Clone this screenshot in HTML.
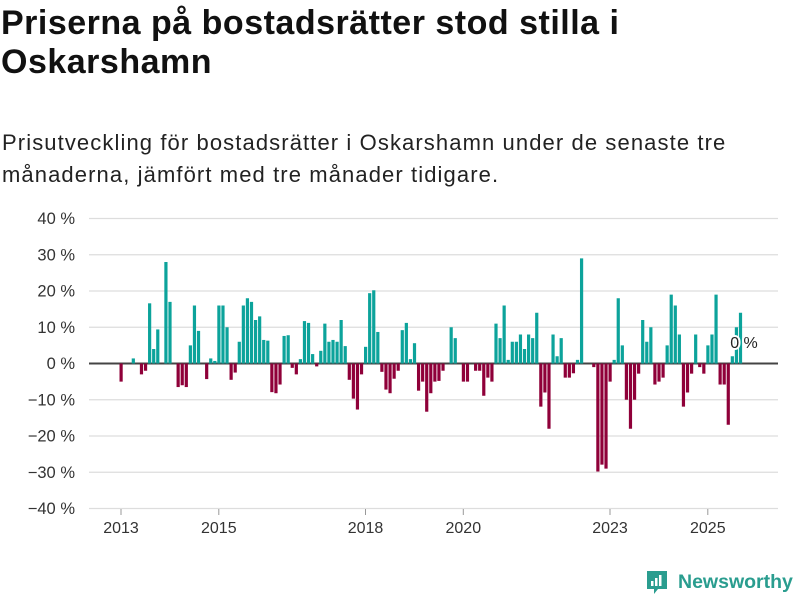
<!DOCTYPE html>
<html><head><meta charset="utf-8"><style>
body{margin:0;background:#fff;width:800px;height:600px;overflow:hidden;font-family:"Liberation Sans",sans-serif;position:relative}
h1{position:absolute;left:1px;top:4px;margin:0;font-size:34px;line-height:39px;font-weight:bold;color:#111;letter-spacing:0.5px;white-space:nowrap}
.sub{position:absolute;left:2px;top:127px;margin:0;font-size:22px;line-height:32px;color:#222;letter-spacing:1.1px;white-space:nowrap}
.logo{position:absolute;left:645px;top:569px;display:flex;align-items:center}
</style></head><body>
<h1>Priserna på bostadsrätter stod stilla i<br>Oskarshamn</h1>
<p class="sub">Prisutveckling för bostadsrätter i Oskarshamn under de senaste tre<br>månaderna, jämfört med tre månader tidigare.</p>
<svg id="chart" width="800" height="600" style="position:absolute;left:0;top:0"></svg>
<div class="logo">
<svg width="24" height="26"><path d="M2 2h20v18h-9l-4 5v-5H2z" fill="#2a9d8f"/><rect x="6" y="12" width="2.5" height="5" fill="#fff"/><rect x="10" y="9" width="2.5" height="8" fill="#fff"/><rect x="14" y="6" width="2.5" height="11" fill="#fff"/></svg>
<span style="margin-left:9px;font-size:19.5px;font-weight:bold;color:#2a9d8f">Newsworthy</span>
</div>
<script>
const values=[-5,0,0,1.4,0,-3,-2,16.6,4,9.4,0,28,17,0,-6.5,-6,-6.5,5,16,9,0,-4.3,1.4,0.7,16,16,10,-4.5,-2.5,6,16,18,17,12,13,6.5,6.3,-7.9,-8.2,-5.8,7.6,7.8,-1.2,-3,1.2,11.7,11.2,2.6,-0.8,3.5,11,6,6.5,6,12,4.8,-4.5,-9.7,-12.7,-3,4.6,19.4,20.2,8.7,-2.3,-7.2,-8.2,-4.2,-2,9.2,11.2,1.2,5.6,-7.5,-5,-13.3,-8.2,-5,-4.8,-2,0,10,7,0,-5,-5,0,-2,-2,-8.9,-3.9,-5,11,7,16,1,6,6,8,4,8,7,14,-11.9,-8,-18,8,2,7,-3.9,-3.9,-2.7,1,29,0,0,-1,-29.8,-27.9,-29,-5,1,18,5,-10,-18,-10,-2.8,12,6,10,-5.8,-5,-3.9,5,19,16,8,-11.9,-8,-2.8,8,-1,-2.8,5,8,19,-5.8,-5.8,-16.9,2,10,14];
const startYear=2013;
const yTicks=[40,30,20,10,0,-10,-20,-30,-40];
const xTickYears=[2013,2015,2018,2020,2023,2025];
const lastLabel="0 %";
const svg=document.getElementById('chart');
const NS='http://www.w3.org/2000/svg';
const X=i=>121+i*4.075;
const Y=v=>363.5-v*3.625;
function mk(t,a){const e=document.createElementNS(NS,t);for(const k in a)e.setAttribute(k,a[k]);svg.appendChild(e);return e;}
yTicks.forEach(v=>{
 const g=mk('line',{x1:89,x2:778,y1:Y(v),y2:Y(v),stroke:v===0?'#444':'#ddd','stroke-width':v===0?2:1.3});
 
 
 const t=mk('text',{x:75,y:Y(v)+5.5,'text-anchor':'end','font-size':16.5,fill:'#333','font-family':'Liberation Sans, sans-serif'});
 t.textContent=(v<0?'\u2212'+(-v):v)+' %';
 
 
});
xTickYears.forEach(yr=>{
 const x=X((yr-startYear)*12);
 const l=mk('line',{x1:x,x2:x,y1:509,y2:515,stroke:'#999'});
 
 
 const t=mk('text',{x:x,y:533,'text-anchor':'middle','font-size':16,fill:'#333','font-family':'Liberation Sans, sans-serif'});
 t.textContent=yr;
 
 
});
values.forEach((v,i)=>{
 if(v===0)return;
 const y0=Y(0),y1=Y(v);
 const r=mk('rect',{x:X(i)-1.5,y:Math.min(y0,y1),width:3.2,height:Math.abs(y1-y0),fill:v>0?'#0ca39b':'#8f0039'});
 
 
});
const lt=mk('text',{x:744,y:348,'text-anchor':'middle','font-size':16,fill:'#222',stroke:'#fff','stroke-width':4,'paint-order':'stroke','font-family':'Liberation Sans, sans-serif'});
lt.textContent=lastLabel;


</script>
</body></html>
